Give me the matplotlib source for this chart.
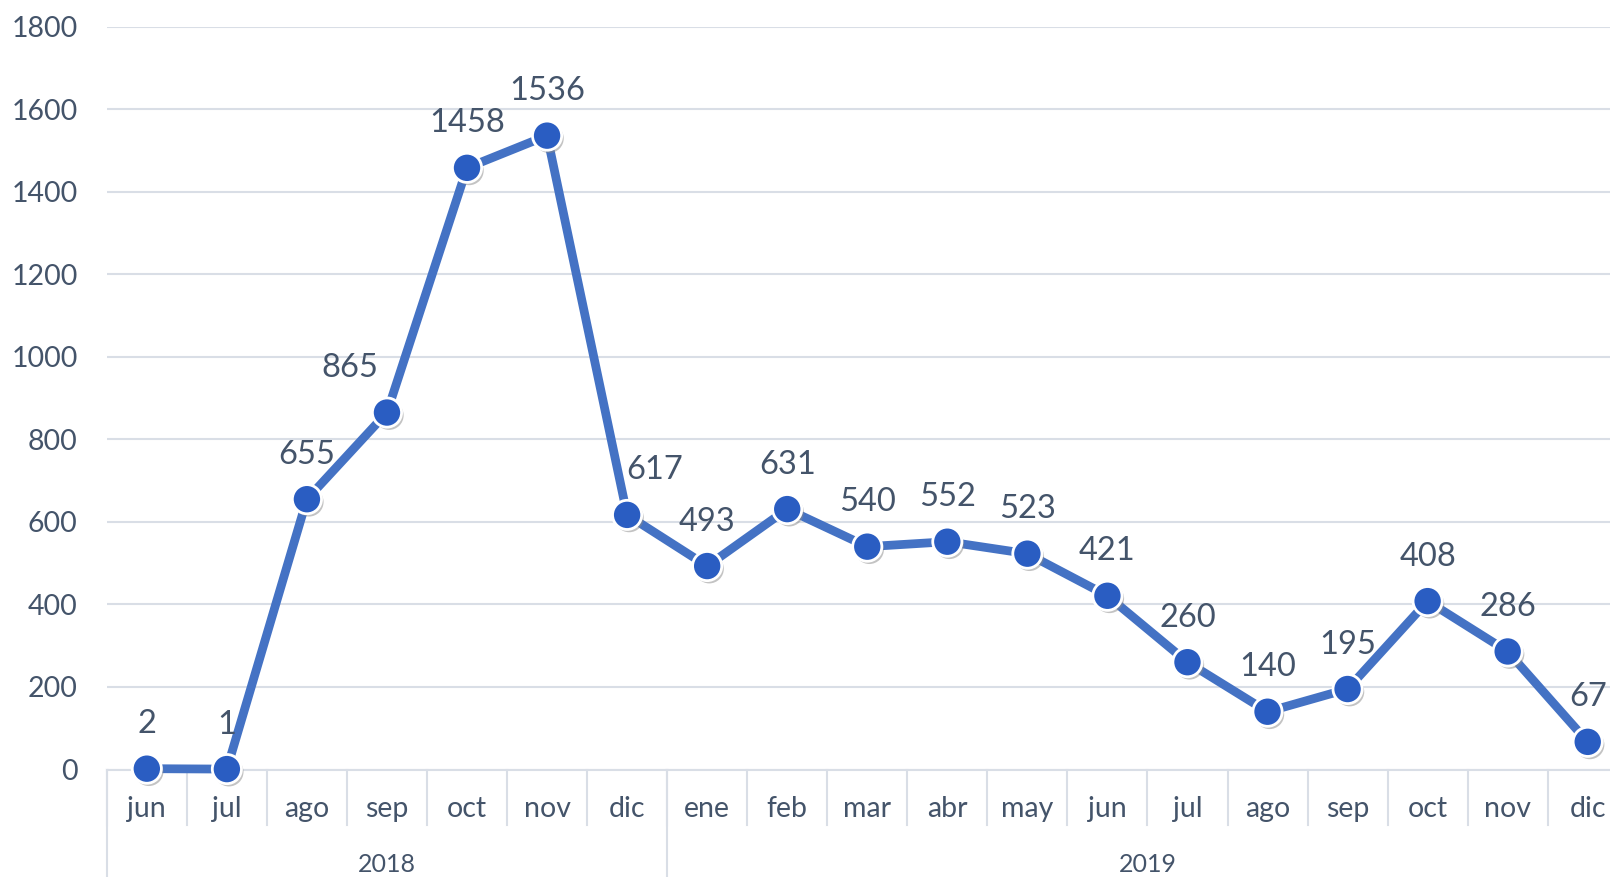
import matplotlib
matplotlib.use("Agg")
import matplotlib.pyplot as plt
import matplotlib.patheffects as pe
from matplotlib.lines import Line2D

months = ["jun", "jul", "ago", "sep", "oct", "nov", "dic",
          "ene", "feb", "mar", "abr", "may", "jun", "jul", "ago", "sep", "oct", "nov", "dic"]
years = ["2018", "2019"]
year_counts = [7, 12]
values = [2, 1, 655, 865, 1458, 1536, 617, 493, 631, 540, 552, 523, 421, 260, 140, 195, 408, 286, 67]
yticks = [0, 200, 400, 600, 800, 1000, 1200, 1400, 1600, 1800]
# label horizontal nudges (pixels) for a few labels
label_dx = {3: -37, 6: 27}

W, H = 1610, 877
DPI = 100
TXT = "#44546A"
GRID = "#D9DEE6"
LINE = "#4472C4"
MARK = "#2A5DC2"

plt.rcParams['font.family'] = ['Lato', 'DejaVu Sans']

fig = plt.figure(figsize=(W / DPI, H / DPI), dpi=DPI)
left_px, cat_w = 106.8, 80.05
n = len(months)
y0_px, ytop_px = 769.5, 26.7
ax = fig.add_axes([left_px / W, (H - y0_px) / H, n * cat_w / W, (y0_px - ytop_px) / H])
ax.set_xlim(-0.5, n - 0.5)
ax.set_ylim(0, 1800)
ax.set_yticks(yticks)
ax.set_yticklabels([str(v) for v in yticks], fontsize=20.5, color=TXT)
ax.tick_params(axis='y', length=0, pad=21)
ax.set_xticks([])
for s in ["top", "right", "left"]:
    ax.spines[s].set_visible(False)
ax.spines["bottom"].set_color(GRID)
ax.spines["bottom"].set_linewidth(1.5)
ax.grid(axis='y', color=GRID, linewidth=1.5)
ax.set_axisbelow(True)

x = list(range(n))
ax.plot(x, values, color=LINE, linewidth=6.3, solid_joinstyle='round', zorder=3, clip_on=False)
ax.plot(x, values, linestyle='none', marker='o', markersize=21, markerfacecolor=MARK,
        markeredgecolor='white', markeredgewidth=2, zorder=4, clip_on=False,
        path_effects=[pe.SimplePatchShadow(offset=(1.5, -2), shadow_rgbFace='#888888', alpha=0.5), pe.Normal()])

for i, v in enumerate(values):
    ax.annotate(str(v), (i, v), xytext=(label_dx.get(i, 0) * 72 / DPI, 32), textcoords='offset points',
                ha='center', va='center', fontsize=23.5, color=TXT, zorder=5, annotation_clip=False)

# category axis: month separators, month labels, year separators, year labels
tr = ax.get_xaxis_transform()
def ypix_to_axes(py):
    return (y0_px - py) / (y0_px - ytop_px)

month_bottom = ypix_to_axes(824.5)
fig_bottom = ypix_to_axes(H + 2)
boundaries = [i - 0.5 for i in range(n + 1)]
year_edges = [-0.5]
for c in year_counts:
    year_edges.append(year_edges[-1] + c)
for b in boundaries:
    ax.add_line(Line2D([b, b], [0, month_bottom], transform=tr, color=GRID, linewidth=1.5, clip_on=False))
for b in year_edges:
    ax.add_line(Line2D([b, b], [0, fig_bottom], transform=tr, color=GRID, linewidth=1.5, clip_on=False))
for i, m in enumerate(months):
    ax.text(i, ypix_to_axes(809), m, transform=tr, ha='center', va='center', fontsize=20.5, color=TXT)
for k, yname in enumerate(years):
    ax.text((year_edges[k] + year_edges[k + 1]) / 2, ypix_to_axes(864), yname, transform=tr,
            ha='center', va='center', fontsize=18, color=TXT)

fig.savefig("out.png", dpi=DPI, facecolor='white')
